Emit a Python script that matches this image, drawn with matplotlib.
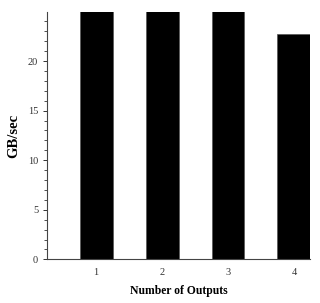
import numpy as np
import matplotlib.pyplot as plt
from matplotlib.ticker import MultipleLocator

# data
outputs = [1, 2, 3, 4]
gbps = [25.0, 25.0, 25.0, 22.7]
tick_labels = ["1", "2", "3", "4"]

plt.rcParams['font.family'] = ['Liberation Serif', 'DejaVu Serif']

fig = plt.figure(figsize=(3.2, 3.03), dpi=100)
ax = fig.add_axes([0.146, 0.144, 0.824, 0.815])

ax.bar(outputs, gbps, width=0.5, color='black', edgecolor='#555555', linewidth=0.5)

ax.set_xlim(0.25, 4.25)
ax.set_ylim(0, 24.9)
ax.set_xticks(outputs)
ax.set_xticklabels(tick_labels)
ax.yaxis.set_major_locator(MultipleLocator(5))
ax.yaxis.set_minor_locator(MultipleLocator(1))

for side in ['top', 'right']:
    ax.spines[side].set_visible(False)
for side in ['left', 'bottom']:
    ax.spines[side].set_color('#444444')
    ax.spines[side].set_linewidth(0.8)

ax.tick_params(axis='x', length=0, labelsize=7.5, colors='#333333', pad=6.5)
ax.tick_params(axis='y', which='major', length=3.2, width=0.7, labelsize=7.5,
               colors='#333333', pad=3)
ax.tick_params(axis='y', which='minor', length=2, width=0.6, colors='#333333')

ax.set_xlabel('Number of Outputs', fontsize=8.4, fontweight='bold')
ax.set_ylabel('GB/sec', fontsize=10.5, fontweight='bold')
ax.xaxis.set_label_coords(0.5, -0.103)
ax.yaxis.set_label_coords(-0.10, 0.5)

fig.savefig('out.png', dpi=100)
